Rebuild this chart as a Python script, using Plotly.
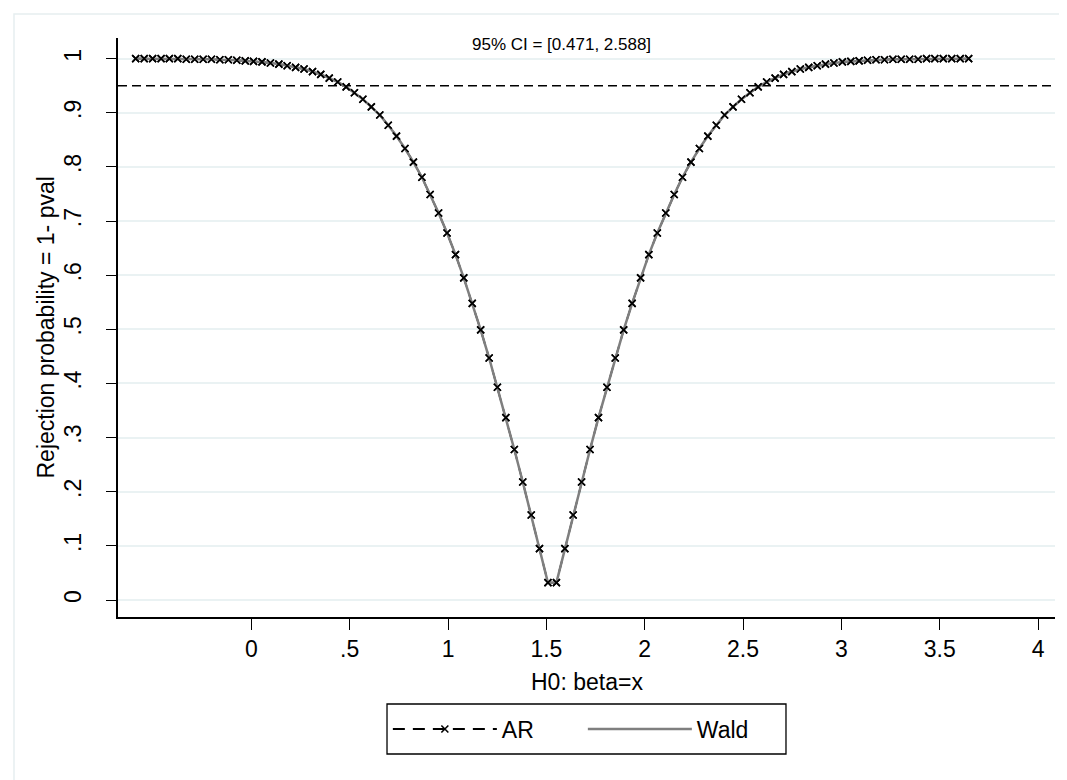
import plotly.graph_objects as go

# H0 grid values (beta = x)
beta_grid = [-0.588, -0.545, -0.502, -0.459, -0.417, -0.374, -0.331, -0.288, -0.245, -0.203,
             -0.160, -0.117, -0.074, -0.031, 0.011, 0.054, 0.097, 0.140, 0.182, 0.225,
             0.268, 0.311, 0.353, 0.396, 0.439, 0.482, 0.524, 0.567, 0.610, 0.653,
             0.696, 0.738, 0.781, 0.824, 0.867, 0.909, 0.952, 0.995, 1.038, 1.080,
             1.123, 1.166, 1.209, 1.251, 1.294, 1.337, 1.380, 1.423, 1.465, 1.508,
             1.551, 1.594, 1.636, 1.679, 1.722, 1.765, 1.808, 1.850, 1.893, 1.936,
             1.979, 2.021, 2.064, 2.107, 2.150, 2.192, 2.235, 2.278, 2.321, 2.364,
             2.406, 2.449, 2.492, 2.535, 2.577, 2.620, 2.663, 2.706, 2.748, 2.791,
             2.834, 2.877, 2.919, 2.962, 3.005, 3.048, 3.090, 3.133, 3.176, 3.219,
             3.262, 3.304, 3.347, 3.390, 3.433, 3.475, 3.518, 3.561, 3.604, 3.647]

half_left = [1.000, 1.000, 1.000, 1.000, 1.000, 1.000, 0.999, 0.999, 0.999, 0.999,
             0.998, 0.998, 0.997, 0.996, 0.995, 0.994, 0.992, 0.990, 0.987, 0.984,
             0.981, 0.976, 0.971, 0.964, 0.957, 0.948, 0.937, 0.925, 0.911, 0.896,
             0.877, 0.857, 0.834, 0.809, 0.781, 0.749, 0.715, 0.678, 0.638, 0.595,
             0.548, 0.499, 0.447, 0.393, 0.337, 0.278, 0.218, 0.157, 0.095, 0.032]

# Rejection probability = 1 - pval
ar_rej = half_left + half_left[::-1]
wald_rej = half_left + half_left[::-1]

ci_text = "95% CI = [0.471, 2.588]"
x_title = "H0: beta=x"
y_title = "Rejection probability = 1- pval"
x_tickvals = [0, 0.5, 1, 1.5, 2, 2.5, 3, 3.5, 4]
x_ticktext = ["0", ".5", "1", "1.5", "2", "2.5", "3", "3.5", "4"]
y_tickvals = [0, 0.1, 0.2, 0.3, 0.4, 0.5, 0.6, 0.7, 0.8, 0.9, 1]
y_ticktext = ["0", ".1", ".2", ".3", ".4", ".5", ".6", ".7", ".8", ".9", "1"]

FONT = "Liberation Sans, Arial, sans-serif"
MARKER = dict(symbol="x-thin", size=7, line=dict(color="black", width=1.6), color="black")

fig = go.Figure()
fig.add_trace(go.Scatter(
    x=beta_grid, y=ar_rej, mode="lines+markers", name="AR",
    line=dict(color="black", width=1.8, dash="12px,8px"), marker=MARKER,
))
fig.add_trace(go.Scatter(
    x=beta_grid, y=wald_rej, mode="lines", name="Wald",
    line=dict(color="#7f7f7f", width=2.5),
))
fig.add_trace(go.Scatter(
    x=beta_grid, y=ar_rej, mode="markers", showlegend=False, hoverinfo="skip", marker=MARKER,
))

# reference lines
fig.add_shape(type="line", xref="paper", yref="y", x0=0, x1=1, y0=0.95, y1=0.95,
              line=dict(color="black", width=1.6, dash="9px,5px"), layer="below")
fig.add_shape(type="line", xref="paper", yref="y", x0=0, x1=1, y0=0, y1=0,
              line=dict(color="black", width=2), layer="below")
# faint outer frame (left and top visible)
fig.add_shape(type="rect", xref="paper", yref="paper", x0=-0.1110, x1=1.2, y0=-0.5, y1=1.0415,
              line=dict(color="#e6eef0", width=1.5), layer="below")
# legend box
fig.add_shape(type="rect", xref="paper", yref="paper", x0=0.2871, x1=0.7129, y0=-0.2366, y1=-0.1503,
              line=dict(color="black", width=1.3), fillcolor="white", layer="below")

fig.update_layout(
    width=1067, height=780,
    margin=dict(l=110, r=20, t=30, b=171),
    paper_bgcolor="white", plot_bgcolor="white",
    font=dict(family=FONT, size=22, color="black"),
    showlegend=True,
    legend=dict(orientation="h", x=0.288, xanchor="left", y=-0.1935, yanchor="middle",
                borderwidth=0, bgcolor="rgba(0,0,0,0)",
                font=dict(size=23), itemwidth=104, entrywidth=76,
                traceorder="normal"),
    annotations=[
        dict(text=ci_text, xref="paper", yref="paper", x=0.4728, y=0.988, yanchor="middle",
             xanchor="center", showarrow=False, font=dict(size=17, family=FONT)),
        dict(text=x_title, xref="paper", yref="paper", x=0.5, y=-0.1123, yanchor="middle",
             xanchor="center", showarrow=False, font=dict(size=23, family=FONT)),
        dict(text=y_title, xref="paper", yref="paper", x=-0.0779, y=0.5, yanchor="middle",
             xanchor="center", textangle=-90, showarrow=False, font=dict(size=23, family=FONT)),
    ],
    xaxis=dict(range=[-0.678, 4.086], tickvals=x_tickvals, ticktext=x_ticktext,
               showgrid=False, zeroline=False, showline=True, linecolor="black", linewidth=1.5,
               ticks="outside", ticklen=11, tickcolor="black", tickwidth=1.2,
               tickfont=dict(size=23)),
    yaxis=dict(range=[-0.0314, 1.0382], tickvals=y_tickvals, ticktext=y_ticktext,
               showgrid=True, gridcolor="#eaf2f3", gridwidth=1.5, zeroline=False,
               showline=True, linecolor="black", linewidth=1.5,
               ticks="outside", ticklen=10, tickcolor="black", tickwidth=1.2,
               tickangle=-90, tickfont=dict(size=23), ticklabelstandoff=16),
)

fig.write_html("out.html")
